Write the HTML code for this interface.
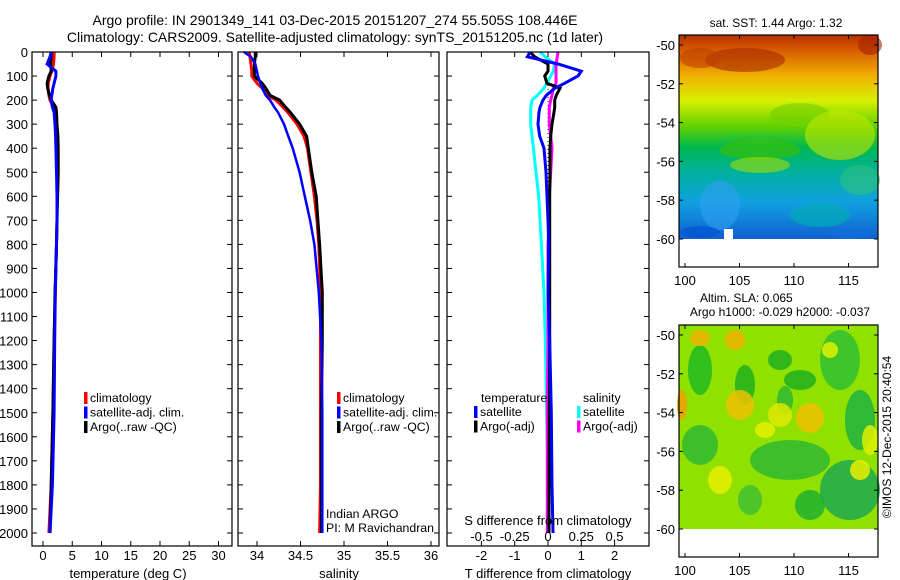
<!DOCTYPE html>
<html><head><meta charset="utf-8"><style>
body{margin:0;background:#fff;}
svg{display:block;font-family:"Liberation Sans",sans-serif;}
</style></head><body>
<svg id="fig" width="900" height="580" viewBox="0 0 900 580" xmlns="http://www.w3.org/2000/svg">
<defs>
<linearGradient id="sstg" x1="0" y1="0" x2="0" y2="1">
<stop offset="0" stop-color="#b83000"/><stop offset="0.08" stop-color="#d86000"/>
<stop offset="0.2" stop-color="#f0b000"/><stop offset="0.32" stop-color="#d8f000"/>
<stop offset="0.45" stop-color="#60d000"/><stop offset="0.55" stop-color="#00b850"/>
<stop offset="0.68" stop-color="#00b0a0"/><stop offset="0.82" stop-color="#10a0e0"/>
<stop offset="1" stop-color="#1060d0"/></linearGradient>
</defs>
<text x="335" y="25" text-anchor="middle" font-size="14">Argo profile: IN 2901349_141 03-Dec-2015 20151207_274 55.505S 108.446E</text>
<text x="335" y="42" text-anchor="middle" font-size="14">Climatology: CARS2009. Satellite-adjusted climatology: synTS_20151205.nc (1d later)</text>
<g id="p1"></g>
<g id="p2"></g>
<g id="p3"></g>
<g id="m1"></g>
<g id="m2"></g>
</svg>
<script>
const NS="http://www.w3.org/2000/svg";
// depths (m)
const depths=[0,20,50,80,100,130,150,180,200,230,250,300,350,400,500,600,700,800,1000,1200,1500,1800,2000];
// temperature (deg C)
const tClim=[1.9,1.9,1.8,1.5,1.2,0.9,0.85,1.0,1.2,1.8,2.1,2.3,2.4,2.5,2.5,2.4,2.4,2.3,2.1,1.9,1.7,1.4,1.0];
const tSat=[1.4,1.2,0.7,2.2,2.2,1.9,1.7,1.5,1.4,1.6,1.9,2.05,2.15,2.2,2.3,2.4,2.4,2.3,2.1,2.0,1.9,1.6,1.2];
const tArgo=[1.4,1.4,1.3,1.4,1.0,0.7,0.8,1.1,1.4,2.2,2.3,2.4,2.55,2.6,2.6,2.5,2.4,2.3,2.05,1.9,1.7,1.4,1.2];
// salinity
const sClim=[33.91,33.92,33.93,33.94,33.94,34.0,34.06,34.12,34.22,34.3,34.35,34.46,34.54,34.58,34.62,34.66,34.69,34.71,34.73,34.73,34.73,34.73,34.72];
const sSat=[33.85,33.93,33.98,34.0,34.01,34.04,34.06,34.1,34.15,34.2,34.24,34.31,34.36,34.41,34.49,34.55,34.61,34.66,34.71,34.74,34.75,34.75,34.75];
const sArgo=[33.98,33.98,33.97,33.97,33.97,34.06,34.1,34.15,34.26,34.33,34.38,34.49,34.57,34.59,34.63,34.68,34.7,34.72,34.75,34.75,34.74,34.74,34.74];
// differences
const dTSat=[-0.54,-0.62,0.3,1.0,0.9,0.5,0.21,-0.05,-0.15,-0.24,-0.27,-0.3,-0.25,-0.12,-0.06,-0.03,0.0,0.02,0.0,0.05,0.1,0.12,0.15];
const dTArgo=[-0.54,-0.4,0.0,0.0,-0.1,-0.03,0.36,0.25,0.2,0.2,0.18,0.12,0.08,0.06,0.06,0.05,0.05,0.05,0.05,0.05,0.04,0.03,0.03];
const dSSat=[-0.06,-0.02,0.05,0.04,0.02,-0.01,-0.03,-0.08,-0.12,-0.13,-0.13,-0.13,-0.12,-0.11,-0.09,-0.07,-0.06,-0.05,-0.03,-0.02,-0.01,0.0,0.0];
const dSArgo=[0.075,0.07,0.06,0.06,0.06,0.06,0.04,0.03,0.02,0.01,0.01,0.01,0.02,0.03,0.02,0.01,0.01,0.0,0.0,0.0,-0.005,-0.005,-0.005];
const depthTicks=[0,100,200,300,400,500,600,700,800,900,1000,1100,1200,1300,1400,1500,1600,1700,1800,1900,2000];
const tTicks=[0,5,10,15,20,25,30];
const sTicks=[34,34.5,35,35.5,36];
const dTTicks=[-2,-1,0,1,2];
const dSTicks=[-0.5,-0.25,0,0.25,0.5];
const latTicks=[-50,-52,-54,-56,-58,-60];
const lonTicks=[100,105,110,115];

const TOP=52,BOT=546;
const yD=d=>52+d*0.2405;
function el(p,tag,attrs,txt){const e=document.createElementNS(NS,tag);for(const k in attrs)e.setAttribute(k,attrs[k]);if(txt!==undefined)e.textContent=txt;p.appendChild(e);return e;}
function frame(g,x0,x1,y0,y1){
 const r=el(g,'rect',{x:x0,y:y0,width:x1-x0,height:y1-y0,fill:'none',stroke:'#000','stroke-width':1.2});
 
 
}
function depthAxis(g,x0,x1,labels){
 depthTicks.forEach(d=>{const y=yD(d);
  el(g,'line',{x1:x0,x2:x0+5,y1:y,y2:y,stroke:'#000'});
  el(g,'line',{x1:x1-5,x2:x1,y1:y,y2:y,stroke:'#000'});
  if(labels){const t=el(g,'text',{x:x0-4,y:y+5,'text-anchor':'end','font-size':13},String(d));
   
   }
 });
}
function xAxis(g,ticks,fx,ly,fmt){
 ticks.forEach(v=>{const x=fx(v);
  el(g,'line',{x1:x,x2:x,y1:BOT,y2:BOT-5,stroke:'#000'});
  el(g,'line',{x1:x,x2:x,y1:TOP,y2:TOP+5,stroke:'#000'});
  if(ly){const t=el(g,'text',{x:x,y:ly,'text-anchor':'middle','font-size':13},fmt?fmt(v):String(v));
   
   }
 });
}
function line(g,vals,fx,col,w,name){
 const pts=vals.map((v,i)=>fx(v).toFixed(1)+','+yD(depths[i]).toFixed(1)).join(' ');
 const p=el(g,'polyline',{points:pts,fill:'none',stroke:col,'stroke-width':w,'stroke-linejoin':'miter'});
 
 
}
function txt(g,x,y,s,name,size,anchor){const t=el(g,'text',{x:x,y:y,'font-size':size||13,'text-anchor':anchor||'start'},s);
 
 return t;}
function legend(g,x,y,items){items.forEach((it,i)=>{
 const r=el(g,'rect',{x:x,y:y+i*14.5-10,width:3.5,height:12,fill:it[0]});
 
 
 txt(g,x+6,y+i*14.5,it[1],'legend-entry',12.3);});}

// Panel 1
const p1=document.getElementById('p1');
const xT=v=>43+v*5.85;
line(p1,tClim,xT,'#ff0000',3,'temp-climatology-line');
line(p1,tArgo,xT,'#000',3,'temp-argo-line');
line(p1,tSat,xT,'#0000ff',3,'temp-satellite-line');
frame(p1,32,232,TOP,BOT);depthAxis(p1,32,232,true);
xAxis(p1,tTicks,xT,560);
txt(p1,128,578,'temperature (deg C)','x-axis-title',13,'middle');
legend(p1,84,402,[['#ff0000','climatology'],['#0000ff','satellite-adj. clim.'],['#000','Argo(..raw -QC)']]);

// Panel 2
const p2=document.getElementById('p2');
const xS=v=>257+(v-34)*87;
line(p2,sClim,xS,'#ff0000',3,'sal-climatology-line');
line(p2,sArgo,xS,'#000',3,'sal-argo-line');
line(p2,sSat,xS,'#0000ff',2.5,'sal-satellite-line');
frame(p2,238,439,TOP,BOT);depthAxis(p2,238,439,false);
xAxis(p2,sTicks,xS,560);
txt(p2,339,578,'salinity','x-axis-title',13,'middle');
legend(p2,337,402,[['#ff0000','climatology'],['#0000ff','satellite-adj. clim.'],['#000','Argo(..raw -QC)']]);
txt(p2,326,518,'Indian ARGO','pi-label',12.3);
txt(p2,326,532,'PI: M Ravichandran','pi-name',12.3);

// Panel 3
const p3=document.getElementById('p3');
const xDT=v=>548+v*33.3;const xDS=v=>548+v*133;
const z=el(p3,'line',{x1:548,x2:548,y1:yD(120),y2:yD(2000),stroke:'#000','stroke-dasharray':'1,3'});


line(p3,dSSat,xDS,'#00ffff',3,'sal-diff-satellite-line');
line(p3,dSArgo,xDS,'#ff00ff',3,'sal-diff-argo-line');
line(p3,dTArgo,xDT,'#000',3,'temp-diff-argo-line');
line(p3,dTSat,xDT,'#0000ff',3,'temp-diff-satellite-line');
frame(p3,447,649,TOP,BOT);depthAxis(p3,447,649,false);
xAxis(p3,dTTicks,xDT,560);
dSTicks.forEach(v=>{txt(p3,xDS(v),541,String(v),'s-tick-label',13,'middle');});
txt(p3,548,525,'S difference from climatology','s-axis-title',13,'middle');
txt(p3,548,578,'T difference from climatology','x-axis-title',13,'middle');
txt(p3,481,402,'temperature','legend-title',12.3);
legend(p3,474,416,[['#0000ff','satellite'],['#000','Argo(-adj)']]);
txt(p3,583,402,'salinity','legend-title',12.3);
legend(p3,577,416,[['#00ffff','satellite'],['#ff00ff','Argo(-adj)']]);

// Maps
function map(g,y0,y1,title,kind){
 const x0=679,x1=878;const yL=v=>y0+10+(-50-v)*19.4;const xL=v=>685+(v-100)*10.9;
 const mapTop=y0,mapBot=yL(-60);
 if(kind===1){
  const r=el(g,'rect',{x:x0,y:mapTop,width:x1-x0,height:mapBot-mapTop,fill:'url(#sstg)'});
  
  
  [[745,60,40,12,'#a82800'],[870,45,12,10,'#a82000'],[700,58,20,10,'#c04000'],[800,115,30,12,'#70d000'],[760,150,40,10,'#40c000'],[840,135,35,25,'#c0e800'],[760,165,30,8,'#a0e000'],[720,205,20,25,'#30a0f0'],[820,215,30,12,'#00b0b0'],[860,180,20,15,'#30c080'],[700,232,20,6,'#0050d0'],[850,234,20,5,'#1070e0']].forEach(b=>{
   const e=el(g,'ellipse',{cx:b[0],cy:b[1],rx:b[2],ry:b[3],fill:b[4],opacity:0.6});
   
   });
  el(g,'rect',{x:724,y:229,width:9,height:11,fill:'#fff'});
 } else {
  const r=el(g,'rect',{x:x0,y:mapTop,width:x1-x0,height:mapBot-mapTop,fill:'#90e000'});
  
  
  [[700,370,12,25,'#20b820'],[745,385,10,20,'#20b020'],[780,360,12,10,'#20b020'],[800,380,16,10,'#20b020'],[785,400,8,14,'#30b830'],[840,360,20,30,'#30c030'],[860,420,15,30,'#20b040'],[790,460,40,20,'#30b830'],[700,445,18,20,'#30b830'],[850,490,30,30,'#20a850'],[810,505,15,15,'#20b030'],[750,500,12,15,'#40c030']].forEach(b=>{
   const e=el(g,'ellipse',{cx:b[0],cy:b[1],rx:b[2],ry:b[3],fill:b[4],opacity:0.85});
   
   });
  [[700,338,10,8,'#f0b000'],[735,340,10,10,'#f0b000'],[740,405,14,15,'#f0c000'],[780,415,12,12,'#e0e800'],[810,418,14,15,'#f0c000'],[682,405,5,15,'#f0a000'],[765,430,10,8,'#e8f000'],[870,440,8,15,'#e0f000'],[720,480,12,14,'#e8f000'],[860,470,10,10,'#e8f000'],[830,350,8,8,'#e0f000']].forEach(b=>{
   const e=el(g,'ellipse',{cx:b[0],cy:b[1],rx:b[2],ry:b[3],fill:b[4],opacity:0.85});
   
   });
 }
 const f=el(g,'rect',{x:x0,y:y0,width:x1-x0,height:y1-y0,fill:'none',stroke:'#000','stroke-width':1.2});
 
 
 latTicks.forEach(v=>{const y=yL(v);el(g,'line',{x1:x0,x2:x0+4,y1:y,y2:y,stroke:'#000'});el(g,'line',{x1:x1-4,x2:x1,y1:y,y2:y,stroke:'#000'});
  txt(g,x0-4,y+5,String(v),'lat-tick-label',13,'end');});
 lonTicks.forEach(v=>{const x=xL(v);el(g,'line',{x1:x,x2:x,y1:y1,y2:y1-4,stroke:'#000'});el(g,'line',{x1:x,x2:x,y1:y0,y2:y0+4,stroke:'#000'});
  txt(g,x,y1+18,String(v),'lon-tick-label',13,'middle');});
}
const m1=document.getElementById('m1');
txt(m1,776,27,'sat. SST: 1.44  Argo: 1.32','sst-map-title',12,'middle');
map(m1,35,267,'',1);
const m2=document.getElementById('m2');
txt(m2,700,302,'Altim. SLA: 0.065','sla-map-title',12,'start');
txt(m2,780,316,'Argo h1000: -0.029 h2000: -0.037','sla-map-subtitle',12,'middle');
map(m2,325,557,'',2);
const c=txt(m2,0,0,'©IMOS 12-Dec-2015 20:40:54','copyright',12,'middle');
c.setAttribute('transform','translate(891,437) rotate(-90)');
</script>
</body></html>
